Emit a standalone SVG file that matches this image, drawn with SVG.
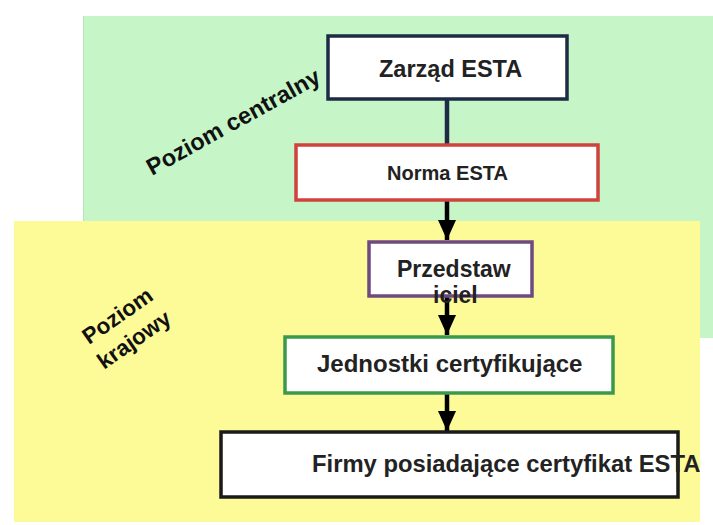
<svg xmlns="http://www.w3.org/2000/svg" width="713" height="525" viewBox="0 0 713 525">
<style>
.lbl{font-family:"Liberation Sans",Arial,sans-serif;font-weight:bold;fill:#222;}
.box{fill:#fff;stroke-width:3.5;}
.side{font-family:"Liberation Sans",Arial,sans-serif;font-weight:bold;fill:#111;font-size:22.5px;}
.conn{stroke:#000;stroke-width:4.5;fill:none;}
</style>
<defs>
<marker id="ah" markerUnits="userSpaceOnUse" markerWidth="22" markerHeight="18" refX="20" refY="9" orient="auto">
<path d="M0,0 L20,9 L0,18 Z" fill="#000"/>
</marker>
</defs>
<rect width="713" height="525" fill="#fff"/>
<g id="region-central">
<rect x="83" y="16" width="630" height="322" fill="#c6f6c8"/>
<line x1="83.5" y1="16" x2="83.5" y2="221" stroke="#b4e6b6" stroke-width="1"/>
<text class="side" transform="translate(152,176) rotate(-29)" font-size="23.5" style="font-size:23.5px">Poziom centralny</text>
</g>
<g id="region-national">
<rect x="14" y="221" width="686" height="301" fill="#fdfa98"/>
<g transform="translate(89,345) rotate(-35)">
<text class="side" x="0" y="0">Poziom</text>
<text class="side" x="-2" y="29">krajowy</text>
</g>
</g>
<g id="connectors">
<line x1="447" y1="99" x2="447" y2="145" stroke="#1e2b44" stroke-width="4.5"/>
<line class="conn" x1="447" y1="200" x2="447" y2="240" marker-end="url(#ah)"/>
<line class="conn" x1="447" y1="296" x2="447" y2="335" marker-end="url(#ah)"/>
<line class="conn" x1="447" y1="393" x2="447" y2="431" marker-end="url(#ah)"/>
</g>
<g id="zarzad">
<rect class="box" x="328" y="36" width="239" height="63" stroke="#1e2b44" stroke-width="4"/>
<text class="lbl" x="379" y="77" font-size="23.5">Zarząd ESTA</text>
</g>
<g id="norma">
<rect class="box" x="296" y="145" width="302" height="55" stroke="#d0423c"/>
<text class="lbl" x="387" y="180" font-size="21" textLength="121" lengthAdjust="spacingAndGlyphs" fill="#111">Norma ESTA</text>
</g>
<g id="przedstawiciel">
<rect class="box" x="369" y="242" width="163" height="54" stroke="#6e4a80"/>
<text class="lbl" x="397" y="277" font-size="23">Przedstaw</text>
<text class="lbl" x="433" y="303" font-size="23">iciel</text>
</g>
<g id="jednostki">
<rect class="box" x="285" y="337" width="328" height="56" stroke="#3b9a4a"/>
<text class="lbl" x="317" y="372" font-size="24">Jednostki certyfikujące</text>
</g>
<g id="firmy">
<rect class="box" x="221" y="432" width="457" height="65" stroke="#1a1a1a" stroke-width="4"/>
<text class="lbl" x="312" y="472" font-size="23.8">Firmy posiadające certyfikat ESTA</text>
</g>
</svg>
